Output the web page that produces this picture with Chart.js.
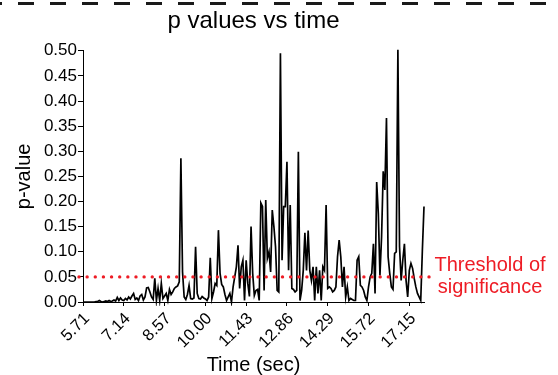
<!DOCTYPE html>
<html><head><meta charset="utf-8">
<script src="https://cdn.jsdelivr.net/npm/chart.js@4/dist/chart.umd.min.js"></script>
<style>html,body{margin:0;padding:0;background:#fff;} canvas{display:block;}</style>
</head><body>
<canvas id="c" width="558" height="375"></canvas>
<script>
const chartTitle = 'p values vs time';
const xTitle = 'Time (sec)';
const yTitle = 'p-value';
const startTime = 5.71;
const timeStep = 0.0572;
const xTickLabels = ['5.71','7.14','8.57','10.00','11.43','12.86','14.29','15.72','17.15'];
const yTickLabels = ['0.00','0.05','0.10','0.15','0.20','0.25','0.30','0.35','0.40','0.45','0.50'];
const threshold = 0.05;
const thresholdLabel = ['Threshold of', 'significance'];
const pValues = [
  0,0,0,0,0,0,0,0,0.001,0.001,
  0.003,0.001,0,0.001,0.002,0.001,0.003,0.001,0.002,0.004,
  0.002,0.009,0.003,0.008,0.004,0.003,0.007,0.004,0.01,0.006,
  0.012,0.017,0.005,0.008,0.003,0.012,0.015,0.004,0.01,0.028,
  0.029,0.02,0.01,0.005,0.047,0.003,0.027,0.003,0.037,0.007,
  0.012,0.017,0.003,0.025,0.015,0.02,0.027,0.03,0.032,0.04,
  0.286,0.06,0.01,0.005,0.015,0.033,0.007,0.006,0.008,0.11,
  0.017,0.007,0.006,0.011,0.008,0.006,0.003,0.01,0.088,0.007,
  0.02,0.037,0.033,0.143,0.057,0.035,0.03,0.015,0.003,0.01,
  0.017,0,0.03,0.05,0.07,0.113,0.027,0.07,0.083,0.003,
  0.083,0.037,0.011,0.15,0.057,0.013,0.023,0.025,0.003,0.197,
  0.19,0.023,0.203,0.087,0.1,0.06,0.183,0.15,0.11,0.023,
  0.02,0.495,0.083,0.19,0.19,0.279,0.063,0.193,0.027,0.025,
  0.02,0.023,0.299,0.003,0.023,0.063,0.138,0.063,0.142,0.063,
  0.043,0.07,0.003,0.07,0.017,0.063,0.003,0.07,0.063,0.193,
  0.027,0.03,0.027,0.02,0.023,0.03,0.09,0.123,0.09,0.03,
  0.07,0.01,0.03,0.003,0.007,0.005,0.003,0.003,0.083,0.09,
  0.033,0.03,0.023,0.01,0.003,0.03,0.05,0.057,0.116,0.017,
  0.239,0.176,0.053,0.13,0.26,0.223,0.366,0.09,0.057,0.03,
  0.025,0.097,0.1,0.502,0.11,0.043,0.083,0.116,0.043,0.01,
  0.063,0.077,0.067,0.047,0.03,0.017,0.01,0.003,0.103,0.19
];

const FONT = '"Liberation Sans", Arial, sans-serif';
const RED = '#ee1c25';
const points = pValues.map((p, i) => ({x: startTime + i * timeStep, y: p}));

const bgPlugin = {
  id: 'bg',
  beforeDraw(chart) {
    const ctx = chart.ctx;
    ctx.save();
    ctx.fillStyle = '#fff';
    ctx.fillRect(0, 0, chart.width, chart.height);
    ctx.restore();
  },
  afterDraw(chart) {
    const ctx = chart.ctx;
    ctx.save();
    ctx.strokeStyle = '#1a1a1a';
    ctx.lineWidth = 3;
    ctx.setLineDash([16, 16]);
    ctx.lineDashOffset = 14;
    ctx.beginPath();
    ctx.moveTo(0, 3.5);
    ctx.lineTo(chart.width, 3.5);
    ctx.stroke();
    ctx.restore();
  }
};

const thresholdPlugin = {
  id: 'thresh',
  afterDatasetsDraw(chart) {
    const ctx = chart.ctx;
    const ya = chart.scales.y;
    const area = chart.chartArea;
    const y = ya.getPixelForValue(threshold);
    ctx.save();
    ctx.strokeStyle = RED;
    ctx.lineWidth = 3.4;
    ctx.lineCap = 'round';
    ctx.setLineDash([0, 8.14]);
    ctx.beginPath();
    ctx.moveTo(area.left - 4, y);
    ctx.lineTo(area.right + 6, y);
    ctx.stroke();
    ctx.setLineDash([]);
    ctx.fillStyle = RED;
    ctx.font = '20px ' + FONT;
    ctx.textAlign = 'center';
    ctx.textBaseline = 'alphabetic';
    const cx = area.right + 66;
    ctx.fillText(thresholdLabel[0], cx, y - 5.5);
    ctx.fillText(thresholdLabel[1], cx, y + 16.5);
    ctx.restore();
  }
};

new Chart(document.getElementById('c'), {
  type: 'line',
  data: {
    datasets: [{
      data: points,
      borderColor: '#000',
      borderWidth: 1.7,
      pointRadius: 0,
      tension: 0,
      fill: false,
      clip: 4
    }]
  },
  options: {
    responsive: false,
    animation: false,
    devicePixelRatio: 1,
    layout: {padding: {left: 0, right: 134, top: 0, bottom: 0}},
    plugins: {
      legend: {display: false},
      tooltip: {enabled: false},
      title: {
        display: true,
        text: chartTitle,
        fullSize: false,
        color: '#000',
        font: {family: FONT, size: 24, weight: 'normal'},
        padding: {top: 7, bottom: 15}
      }
    },
    scales: {
      x: {
        type: 'linear',
        min: startTime,
        max: startTime + (pValues.length - 1) * timeStep,
        afterBuildTicks: (scale) => { scale.ticks = xTickLabels.map(s => ({value: parseFloat(s)})); },
        afterFit: (scale) => { scale.height = 73; },
        border: {display: true, color: '#000', width: 1},
        grid: {drawOnChartArea: false, drawTicks: true, tickLength: 4, color: '#000'},
        ticks: {
          autoSkip: false, minRotation: 45, maxRotation: 45, padding: 3, labelOffset: 4,
          color: '#000', font: {family: FONT, size: 16.5},
          callback: (v, i) => xTickLabels[i]
        },
        title: {display: true, text: xTitle, color: '#000', font: {family: FONT, size: 20}, padding: {top: 0, bottom: -2}}
      },
      y: {
        type: 'linear',
        min: 0,
        max: 0.5,
        afterBuildTicks: (scale) => { scale.ticks = yTickLabels.map(s => ({value: parseFloat(s)})); },
        afterFit: (scale) => { scale.width = 83; },
        border: {display: true, color: '#000', width: 1},
        grid: {drawOnChartArea: false, drawTicks: true, tickLength: 5, color: '#000'},
        ticks: {
          padding: 1, color: '#000', font: {family: FONT, size: 17},
          callback: (v, i) => yTickLabels[i]
        },
        title: {display: true, text: yTitle, color: '#000', font: {family: FONT, size: 20}, padding: {top: 12, bottom: 0}}
      }
    }
  },
  plugins: [bgPlugin, thresholdPlugin]
});
</script>
</body></html>
